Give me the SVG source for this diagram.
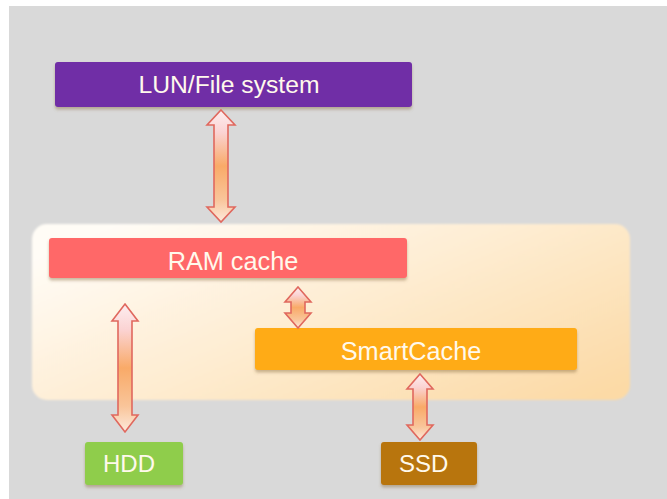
<svg xmlns="http://www.w3.org/2000/svg" width="667" height="499" viewBox="0 0 667 499">
  <defs>
    <linearGradient id="contGrad" x1="0" y1="0.2" x2="1" y2="0.9">
      <stop offset="0" stop-color="#fffcf6"/>
      <stop offset="0.45" stop-color="#feedd3"/>
      <stop offset="1" stop-color="#fcdaa6"/>
    </linearGradient>
    <linearGradient id="arrowGrad" x1="0" y1="0" x2="0" y2="1">
      <stop offset="0" stop-color="#fdeef0"/>
      <stop offset="0.2" stop-color="#fbd3d3"/>
      <stop offset="0.5" stop-color="#f9aa68"/>
      <stop offset="0.8" stop-color="#f9c59a"/>
      <stop offset="1" stop-color="#fde9dc"/>
    </linearGradient>
    <filter id="shadow" x="-5%" y="-20%" width="110%" height="150%">
      <feDropShadow dx="0" dy="2.5" stdDeviation="1.5" flood-color="#8a6a40" flood-opacity="0.45"/>
    </filter>
    <filter id="soft" x="-5%" y="-10%" width="110%" height="120%">
      <feGaussianBlur stdDeviation="1"/>
    </filter>
  </defs>
  <style>
    .box { filter: url(#shadow); }
    .lbl { font-family: "Liberation Sans", Arial, sans-serif; fill: #fff9ec; }
    .arrow { fill: url(#arrowGrad); stroke: #e0685e; stroke-width: 1.6; stroke-linejoin: miter; }
  </style>

  <rect x="0" y="0" width="667" height="499" fill="#ffffff"/>
  <rect x="9" y="6" width="658" height="493" fill="#d9d9d9"/>

  <g id="container">
    <rect x="32" y="224" width="598" height="176" rx="15" fill="url(#contGrad)" filter="url(#soft)"/>
  </g>

  <g id="lun">
    <rect class="box" x="55" y="62" width="357" height="45" rx="3" fill="#6f2da6"/>
    <text class="lbl" x="229" y="93" text-anchor="middle" font-size="24.7">LUN/File system</text>
  </g>

  <g id="ram">
    <rect class="box" x="49" y="238" width="358" height="40" rx="3" fill="#ff6868"/>
    <text class="lbl" x="233" y="270" text-anchor="middle" font-size="25.3">RAM cache</text>
  </g>

  <g id="smartcache">
    <rect class="box" x="255" y="328" width="322" height="42" rx="3" fill="#ffab12"/>
    <text class="lbl" x="411" y="360" text-anchor="middle" font-size="25.3">SmartCache</text>
  </g>

  <g id="hdd">
    <rect class="box" x="85" y="442" width="98" height="43" rx="3" fill="#8fcd4b"/>
    <text class="lbl" x="103" y="472" font-size="24">HDD</text>
  </g>

  <g id="ssd">
    <rect class="box" x="381" y="442" width="96" height="43" rx="3" fill="#b8740a"/>
    <text class="lbl" x="399" y="472" font-size="24">SSD</text>
  </g>

  <g id="connectors">
    <path class="arrow" d="M221,110 L235,125 L228,125 L228,207 L235,207 L221,222 L207,207 L214,207 L214,125 L207,125 Z"/>
    <path class="arrow" d="M298,287 L311,302 L305,302 L305,313 L311,313 L298,328 L285,313 L291,313 L291,302 L285,302 Z"/>
    <path class="arrow" d="M125,304 L138,321 L132,321 L132,415 L138,415 L125,432 L112,415 L118,415 L118,321 L112,321 Z"/>
    <path class="arrow" d="M420,374 L433,389 L427,389 L427,425 L433,425 L420,440 L407,425 L413,425 L413,389 L407,389 Z"/>
  </g>
</svg>
